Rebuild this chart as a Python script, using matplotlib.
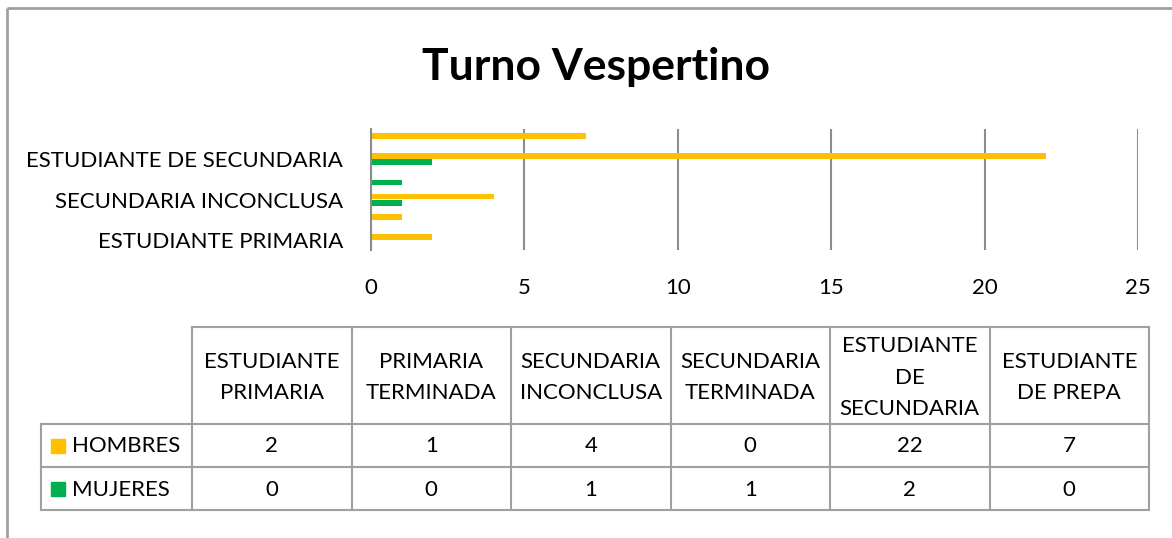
import numpy as np
import matplotlib.pyplot as plt
from matplotlib.patches import Rectangle

# datos del grafico
categorias = ['ESTUDIANTE PRIMARIA', 'PRIMARIA TERMINADA', 'SECUNDARIA INCONCLUSA',
              'SECUNDARIA TERMINADA', 'ESTUDIANTE DE SECUNDARIA', 'ESTUDIANTE DE PREPA']
encabezados = ['ESTUDIANTE\nPRIMARIA', 'PRIMARIA\nTERMINADA', 'SECUNDARIA\nINCONCLUSA',
               'SECUNDARIA\nTERMINADA', 'ESTUDIANTE\nDE\nSECUNDARIA', 'ESTUDIANTE\nDE PREPA']
hombres = [2, 1, 4, 0, 22, 7]
mujeres = [0, 0, 1, 1, 2, 0]
series = ['HOMBRES', 'MUJERES']
colores = ['#FFC000', '#00B050']
titulo = 'Turno Vespertino'

plt.rcParams['font.family'] = ['Lato', 'DejaVu Sans']

W, H = 1172, 538
fig = plt.figure(figsize=(W / 100, H / 100), dpi=100)

# capa en pixeles para marco, titulo y tabla
bg = fig.add_axes([0, 0, 1, 1])
bg.set_xlim(0, W)
bg.set_ylim(H, 0)
bg.axis('off')
gris = '#A0A0A0'
bg.plot([6.5, 6.5], [H, 7.5], color=gris, lw=2, solid_capstyle='butt')
bg.plot([6.5, W], [7.5, 7.5], color=gris, lw=2, solid_capstyle='butt')
bg.text(596, 80, titulo, ha='center', va='baseline', fontsize=32, fontweight='bold')

# grafico de barras
ax = fig.add_axes([371 / W, 1 - 250 / H, (1138 - 371) / W, (250 - 129) / H])
y = np.arange(len(categorias))
alto = 0.29
ax.barh(y + 0.15, hombres, height=alto, color=colores[0], label=series[0])
ax.barh(y - 0.15, mujeres, height=alto, color=colores[1], label=series[1])
ax.set_xlim(0, 25)
ax.set_ylim(-0.5, len(categorias) - 0.5)
ax.set_xticks(range(0, 26, 5))
ax.set_yticks(y[::2])
ax.set_yticklabels(categorias[::2])
ax.tick_params(axis='both', length=0, labelsize=16)
ax.tick_params(axis='x', pad=20)
ax.tick_params(axis='y', pad=20)
ax.grid(axis='x', color='#8C8C8C', lw=1.5)
ax.set_axisbelow(True)
for s in ['top', 'right', 'bottom']:
    ax.spines[s].set_visible(False)
ax.spines['left'].set_color('#8C8C8C')
ax.spines['left'].set_linewidth(1.5)

# tabla de datos
x0 = 41
bordes = np.linspace(192, 1149, len(categorias) + 1)
filas = [327, 424, 467, 510]
lw = 1.5
bg.plot([bordes[0], bordes[-1]], [filas[0], filas[0]], color=gris, lw=lw)
for f in filas[1:]:
    bg.plot([x0, bordes[-1]], [f, f], color=gris, lw=lw)
for b in bordes:
    bg.plot([b, b], [filas[0], filas[-1]], color=gris, lw=lw)
bg.plot([x0, x0], [filas[1], filas[-1]], color=gris, lw=lw)

for i, enc in enumerate(encabezados):
    xc = (bordes[i] + bordes[i + 1]) / 2
    bg.text(xc, (filas[0] + filas[1]) / 2 + 2, enc, ha='center', va='center',
            fontsize=16, linespacing=1.7)

valores = [hombres, mujeres]
for r, (nombre, vals, col) in enumerate(zip(series, valores, colores)):
    yc = (filas[r + 1] + filas[r + 2]) / 2
    bg.add_patch(Rectangle((51, yc - 7), 14, 14, color=col))
    bg.text(72, yc + 1, nombre, ha='left', va='center', fontsize=16)
    for i, v in enumerate(vals):
        xc = (bordes[i] + bordes[i + 1]) / 2
        bg.text(xc, yc + 1, str(v), ha='center', va='center', fontsize=16)

fig.savefig('out.png', dpi=100)
